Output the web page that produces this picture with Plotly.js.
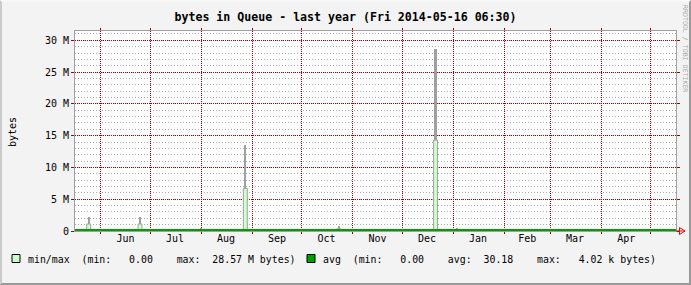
<!DOCTYPE html>
<html>
<head>
<meta charset="utf-8">
<script src="https://cdn.plot.ly/plotly-3.0.1.min.js"></script>
<style>
  html, body { margin: 0; padding: 0; background: #f3f3f3; }
  #wrap { position: relative; width: 691px; height: 285px; }
  #chart { width: 691px; height: 285px; }
  #frame { position: absolute; left: 0; top: 0; width: 691px; height: 285px; box-sizing: border-box;
           border-left: 2px solid #cbcbcb; border-top: 2px solid #f8f8f8;
           border-right: 2px solid #999999; border-bottom: 2px solid #999999; pointer-events: none; }
</style>
</head>
<body>
<div id="wrap"><div id="chart"></div><div id="frame"></div></div>
<script>
// ---- data ----
const rangeStart = '2013-05-16 06:30';
const rangeEnd   = '2014-05-16 06:30';

const spikeDates = ['2013-05-24 14:00', '2013-06-24 18:00', '2013-07-31 14:00', '2013-08-27 17:00',
                    '2013-10-23 10:00', '2013-12-21 06:00', '2014-01-03 11:00'];
const maxValues  = [2.15e6, 2.15e6, 0.55e6, 13.5e6, 0.85e6, 28.57e6, 0.5e6];   // grey upper part
const minMaxValues = [1.1e6, 1.1e6, 0, 6.7e6, 0.35e6, 14.3e6, 0];             // light green part

const avgDates  = ['2013-05-16 06:30', '2014-05-16 06:30'];
const avgValues = [0, 0];

const monthStarts = ['2013-06-01', '2013-07-01', '2013-08-01', '2013-09-01', '2013-10-01', '2013-11-01',
                     '2013-12-01', '2014-01-01', '2014-02-01', '2014-03-01', '2014-04-01', '2014-05-01'];
const monthMids   = ['2013-06-16', '2013-07-16', '2013-08-16', '2013-09-16', '2013-10-16', '2013-11-16',
                     '2013-12-16', '2014-01-16', '2014-02-15', '2014-03-16', '2014-04-16'];
const monthLabels = ['Jun', 'Jul', 'Aug', 'Sep', 'Oct', 'Nov', 'Dec', 'Jan', 'Feb', 'Mar', 'Apr'];

const yTickVals   = [0, 5e6, 10e6, 15e6, 20e6, 25e6, 30e6];
const yTickLabels = ['0', '5 M', '10 M', '15 M', '20 M', '25 M', '30 M'];
const yMax = 31.46e6;

const titleText = 'bytes in Queue - last year (Fri 2014-05-16 06:30)';
const legendMinMax = 'min/max  (min:   0.00    max:  28.57 M bytes)';
const legendAvg    = 'avg  (min:   0.00    avg:  30.18    max:   4.02 k bytes)';

// ---- layout helpers (pixel -> paper) ----
const W = 691, H = 285, L = 75, R = 15, T = 31, B = 54;
const pw = W - L - R, ph = H - T - B;
const px = x => (x - L) / pw;
const py = y => (H - B - y) / ph;
const nb = s => s.replace(/ /g, '\u00a0');

const MONO = 'DejaVu Sans Mono';
const DAY = 86400000;
const MAJOR = '#a00000';
const MINOR = '#aaaaaa';

const traces = [
  { type: 'bar', x: spikeDates, y: maxValues, width: 1.4 * DAY,
    marker: { color: '#a0a0a0', line: { width: 0 } }, hoverinfo: 'skip', showlegend: false },
  { type: 'bar', x: spikeDates, y: minMaxValues, width: 2.4 * DAY,
    marker: { color: '#ccffcc', line: { width: 1, color: '#a0a0a0' } }, hoverinfo: 'skip', showlegend: false },
  { type: 'scatter', mode: 'lines', x: avgDates, y: avgValues, xaxis: 'x2', yaxis: 'y',
    line: { color: '#00a000', width: 4 }, hoverinfo: 'skip', showlegend: false }
];

const layout = {
  width: W, height: H,
  margin: { l: L, r: R, t: T, b: B, pad: 0 },
  paper_bgcolor: '#f3f3f3', plot_bgcolor: '#ffffff',
  barmode: 'overlay', bargap: 0,
  showlegend: false,
  font: { family: MONO, size: 10, color: '#000' },
  title: { text: '<b>' + titleText + '</b>', x: 0.5, xref: 'container', xanchor: 'center',
           y: 1 - 17 / H, yref: 'container', yanchor: 'middle',
           font: { family: MONO, size: 11.6, color: '#000' } },
  xaxis: {
    type: 'date', range: [rangeStart, rangeEnd], fixedrange: true,
    tickmode: 'array', tickvals: monthMids, ticktext: monthLabels,
    showgrid: false, zeroline: false, showline: false, ticks: '',
    tickfont: { family: MONO, size: 10, color: '#000' }
  },
  xaxis2: {
    type: 'date', range: [rangeStart, rangeEnd], overlaying: 'x', anchor: 'y', side: 'bottom', fixedrange: true,
    tickmode: 'array', tickvals: monthStarts, showticklabels: false,
    showgrid: true, gridcolor: MAJOR, gridwidth: 1, griddash: '1px,1px',
    ticks: 'outside', ticklen: 2, tickcolor: MAJOR, tickwidth: 1,
    showline: true, linecolor: '#a0a0a0', linewidth: 1, mirror: 'ticks', zeroline: false
  },
  yaxis: {
    range: [0, yMax], fixedrange: true,
    tickmode: 'array', tickvals: yTickVals, ticktext: yTickLabels,
    showgrid: true, gridcolor: MAJOR, gridwidth: 1, griddash: '1px,1px',
    minor: { tickmode: 'linear', tick0: 0, dtick: 1e6, showgrid: true, gridcolor: MINOR, griddash: '1px,2px', ticks: '' },
    ticks: 'outside', ticklen: 3, tickcolor: MAJOR, tickwidth: 1,
    showline: true, linecolor: '#a0a0a0', linewidth: 1, mirror: 'ticks', zeroline: false,
    tickfont: { family: MONO, size: 10, color: '#000' }
  },
  annotations: [
    { text: 'bytes', xref: 'paper', yref: 'paper', x: px(12), y: py(132), xanchor: 'center', yanchor: 'middle',
      textangle: -90, showarrow: false, font: { family: MONO, size: 10, color: '#000' } },
    { text: 'RRDTOOL / TOBI OETIKER', xref: 'paper', yref: 'paper', x: px(685), y: py(48), xanchor: 'center', yanchor: 'middle',
      textangle: 90, showarrow: false, font: { family: MONO, size: 6.6, color: '#aaaaaa' } },
    { text: nb(legendMinMax), xref: 'paper', yref: 'paper', x: px(26), y: py(259), xanchor: 'left', yanchor: 'middle',
      showarrow: false, font: { family: MONO, size: 9.9, color: '#000' } },
    { text: nb(legendAvg), xref: 'paper', yref: 'paper', x: px(321), y: py(259), xanchor: 'left', yanchor: 'middle',
      showarrow: false, font: { family: MONO, size: 9.9, color: '#000' } }
  ],
  shapes: [
    { type: 'rect', xref: 'paper', yref: 'paper', x0: px(12), x1: px(20), y0: py(262.5), y1: py(254.5),
      fillcolor: '#ccffcc', line: { color: '#000', width: 1 } },
    { type: 'rect', xref: 'paper', yref: 'paper', x0: px(307), x1: px(315), y0: py(262.5), y1: py(254.5),
      fillcolor: '#00a000', line: { color: '#000', width: 1 } },
    // x-axis arrow
    { type: 'path', xref: 'paper', yref: 'paper',
      path: `M ${px(676)} ${py(231)} L ${px(685)} ${py(231)} M ${px(679.5)} ${py(227.5)} L ${px(679.5)} ${py(234.5)} L ${px(685)} ${py(231)} Z`,
      line: { color: '#ff0000', width: 1 }, fillcolor: 'rgba(0,0,0,0)' }
  ]
};

Plotly.newPlot('chart', traces, layout, { staticPlot: true, displayModeBar: false });
</script>
</body>
</html>
